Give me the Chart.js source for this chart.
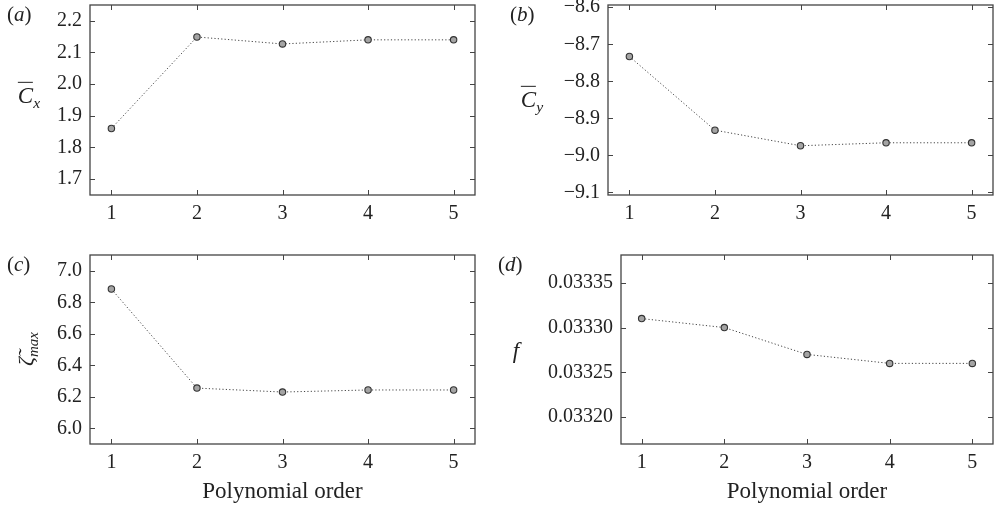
<!DOCTYPE html>
<html>
<head>
    <meta charset="UTF-8">
    <title>Polynomial order convergence</title>
    <script src="https://cdn.jsdelivr.net/npm/chart.js"></script>
    <style>
        body { margin: 0; background: #fff; overflow: hidden; }
        #wrap { position: relative; width: 994px; height: 511px; font-family: "Liberation Serif", "DejaVu Serif", serif; color: #222; }
        .panel { position: absolute; }
        .lbl { position: absolute; transform: translate(-50%, -50%); white-space: nowrap; line-height: 1; }
        .tag { position: absolute; font-size: 21px; line-height: 1; }
        .tag i { font-style: italic; }
        .ov { display: inline-block; border-top: 1.4px solid #222; padding-top: 1px; font-style: italic; }
        sub { font-size: 0.68em; font-style: italic; vertical-align: -0.3em; }
    </style>
</head>
<body>
<div id="wrap">
    <div class="panel" style="left:0;top:0;width:490px;height:250px"><canvas id="chartA"></canvas></div>
    <div class="panel" style="left:490px;top:0;width:504px;height:250px"><canvas id="chartB"></canvas></div>
    <div class="panel" style="left:0;top:250px;width:490px;height:261px"><canvas id="chartC"></canvas></div>
    <div class="panel" style="left:490px;top:250px;width:504px;height:261px"><canvas id="chartD"></canvas></div>

    <!-- panel letters -->
    <div class="tag" style="left:7px;top:4px">(<i>a</i>)</div>
    <div class="tag" style="left:510px;top:4px">(<i>b</i>)</div>
    <div class="tag" style="left:7px;top:254px">(<i>c</i>)</div>
    <div class="tag" style="left:498px;top:254px">(<i>d</i>)</div>

    <!-- y axis labels -->
    <div class="lbl" style="left:29px;top:96px;font-size:23px"><span class="ov">C</span><sub>x</sub></div>
    <div class="lbl" style="left:532px;top:100px;font-size:23px"><span class="ov">C</span><sub>y</sub></div>
    <div class="lbl" style="left:28px;top:349px;font-size:22px;transform:translate(-50%,-50%) rotate(-90deg)"><i>ζ̃</i><sub>max</sub></div>
    <div class="lbl" style="left:516px;top:350px;font-size:23px"><i>f</i></div>
</div>

<script>
    // data
    const orders = [1, 2, 3, 4, 5];
    const cxMean = [1.86, 2.149, 2.127, 2.14, 2.14];
    const cyMean = [-8.733, -8.932, -8.974, -8.966, -8.966];
    const zetaMax = [6.884, 6.255, 6.23, 6.243, 6.243];
    const freq = [0.03331, 0.0333, 0.03327, 0.03326, 0.03326];

    // tick values
    const ticksA = [1.7, 1.8, 1.9, 2.0, 2.1, 2.2];
    const ticksB = [-9.1, -9.0, -8.9, -8.8, -8.7, -8.6];
    const ticksC = [6.0, 6.2, 6.4, 6.6, 6.8, 7.0];
    const ticksD = [0.0332, 0.03325, 0.0333, 0.03335];

    const FONT = "'Liberation Serif', serif";
    const INK = '#222';
    const FRAME = '#444';

    // frame and inward ticks on all four sides
    const framePlugin = {
        id: 'frame',
        afterDraw(chart) {
            const ctx = chart.ctx, a = chart.chartArea;
            const xs = chart.scales.x, ys = chart.scales.y;
            const len = 5;
            ctx.save();
            ctx.strokeStyle = FRAME;
            ctx.lineWidth = 1.3;
            ctx.strokeRect(a.left, a.top, a.right - a.left, a.bottom - a.top);
            ctx.lineWidth = 1;
            ctx.beginPath();
            xs.ticks.forEach(t => {
                const px = Math.round(xs.getPixelForValue(t.value)) + 0.5;
                ctx.moveTo(px, a.bottom); ctx.lineTo(px, a.bottom - len);
                ctx.moveTo(px, a.top); ctx.lineTo(px, a.top + len);
            });
            ys.ticks.forEach(t => {
                const py = Math.round(ys.getPixelForValue(t.value)) + 0.5;
                ctx.moveTo(a.left, py); ctx.lineTo(a.left + len, py);
                ctx.moveTo(a.right, py); ctx.lineTo(a.right - len, py);
            });
            ctx.stroke();
            ctx.restore();
        }
    };

    function makeChart(id, values, yTicks, yMin, yMax, fmt, box) {
        const withTitle = box.xHeight > 60;
        new Chart(document.getElementById(id), {
            type: 'line',
            data: {
                datasets: [{
                    data: orders.map((o, i) => ({ x: o, y: values[i] })),
                    borderColor: '#444',
                    borderWidth: 1,
                    borderDash: [1.2, 2.2],
                    pointRadius: 3.2,
                    pointBorderWidth: 1.1,
                    pointBackgroundColor: '#a4a4a4',
                    pointBorderColor: '#333',
                    tension: 0
                }]
            },
            options: {
                responsive: true,
                maintainAspectRatio: false,
                animation: false,
                layout: { autoPadding: false, padding: { left: 0, right: box.right, top: box.top, bottom: 0 } },
                plugins: { legend: { display: false }, tooltip: { enabled: false } },
                scales: {
                    x: {
                        type: 'linear',
                        min: 0.75,
                        max: 5.25,
                        grid: { display: false, drawTicks: false },
                        border: { display: false },
                        afterBuildTicks: s => { s.ticks = orders.map(v => ({ value: v })); },
                        afterFit: s => { s.height = box.xHeight; s.paddingLeft = 0; s.paddingRight = 0; },
                        ticks: { color: INK, font: { family: FONT, size: 20 }, padding: 7, maxRotation: 0,
                                 callback: v => String(v) },
                        title: { display: withTitle, text: 'Polynomial order', color: INK,
                                 font: { family: FONT, size: 23 }, padding: { top: 0, bottom: 5 } }
                    },
                    y: {
                        type: 'linear',
                        min: yMin,
                        max: yMax,
                        grid: { display: false, drawTicks: false },
                        border: { display: false },
                        afterBuildTicks: s => { s.ticks = yTicks.map(v => ({ value: v })); },
                        afterFit: s => { s.width = box.yWidth; s.paddingTop = 0; s.paddingBottom = 0; },
                        ticks: { color: INK, font: { family: FONT, size: 20 }, padding: 8, callback: fmt }
                    }
                }
            },
            plugins: [framePlugin]
        });
    }

    const minus = v => (v < 0 ? '\u2212' + Math.abs(v).toFixed(1) : v.toFixed(1));

    makeChart('chartA', cxMean, ticksA, 1.65, 2.25, v => v.toFixed(1),
        { yWidth: 90, right: 15, top: 5, xHeight: 55 });
    makeChart('chartB', cyMean, ticksB, -9.107, -8.594, minus,
        { yWidth: 118, right: 1, top: 5, xHeight: 55 });
    makeChart('chartC', zetaMax, ticksC, 5.9, 7.1, v => v.toFixed(1),
        { yWidth: 90, right: 15, top: 5, xHeight: 67 });
    makeChart('chartD', freq, ticksD, 0.03317, 0.033381, v => v.toFixed(5),
        { yWidth: 131, right: 1, top: 5, xHeight: 67 });
</script>
</body>
</html>
